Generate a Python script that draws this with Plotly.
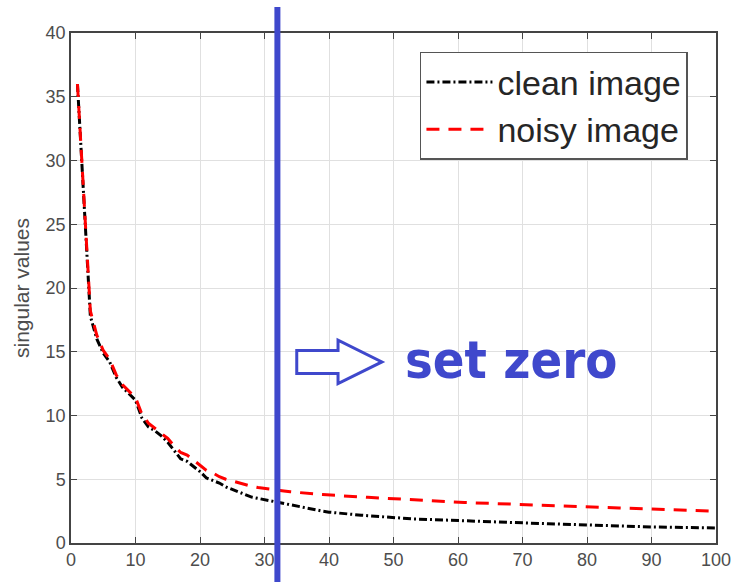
import plotly.graph_objects as go

# ---- data ----
rank = list(range(1, 101))
clean_image = [
    36.0, 27.0, 17.8, 16.0, 14.9, 14.2, 13.0, 12.2, 11.7, 11.2,
    9.8, 9.1, 8.8, 8.4, 7.9, 7.2, 6.6, 6.4, 6.0, 5.6,
    5.1, 4.9, 4.7, 4.4, 4.2, 4.0, 3.8, 3.6, 3.5, 3.4,
    3.3, 3.2, 3.05, 2.95, 2.85, 2.75, 2.65, 2.57, 2.5, 2.42,
    2.36, 2.31, 2.26, 2.22, 2.18, 2.14, 2.10, 2.06, 2.02, 1.96,
    1.93, 1.91, 1.89, 1.87, 1.85, 1.83, 1.81, 1.79, 1.76, 1.73,
    1.72, 1.70, 1.69, 1.67, 1.66, 1.64, 1.62, 1.61, 1.59, 1.57,
    1.56, 1.54, 1.53, 1.51, 1.50, 1.48, 1.47, 1.45, 1.43, 1.41,
    1.40, 1.38, 1.37, 1.35, 1.34, 1.32, 1.31, 1.29, 1.28, 1.26,
    1.25, 1.24, 1.23, 1.22, 1.21, 1.21, 1.20, 1.19, 1.19, 1.18,
]
noisy_image = [
    36.0, 27.2, 18.2, 16.3, 15.1, 14.4, 13.2, 12.4, 11.9, 11.4,
    10.1, 9.4, 9.0, 8.6, 8.2, 7.6, 7.1, 6.9, 6.5, 6.1,
    5.7, 5.5, 5.2, 5.0, 4.85, 4.7, 4.55, 4.45, 4.35, 4.27,
    4.2, 4.15, 4.08, 4.02, 3.96, 3.92, 3.88, 3.84, 3.80, 3.76,
    3.73, 3.70, 3.67, 3.64, 3.61, 3.58, 3.55, 3.52, 3.49, 3.45,
    3.43, 3.40, 3.38, 3.35, 3.33, 3.30, 3.28, 3.25, 3.23, 3.20,
    3.18, 3.16, 3.14, 3.12, 3.10, 3.08, 3.06, 3.04, 3.02, 3.00,
    2.99, 2.97, 2.96, 2.94, 2.93, 2.92, 2.90, 2.89, 2.87, 2.85,
    2.83, 2.81, 2.79, 2.77, 2.75, 2.73, 2.71, 2.69, 2.67, 2.65,
    2.63, 2.61, 2.59, 2.57, 2.55, 2.53, 2.52, 2.51, 2.50, 2.49,
]
series_names = ["clean image", "noisy image"]
x_ticks = [0, 10, 20, 30, 40, 50, 60, 70, 80, 90, 100]
y_ticks = [0, 5, 10, 15, 20, 25, 30, 35, 40]
cut_rank = 32
annotation_text = "set zero"
y_title = "singular values"

BLUE = "#3F48CC"

fig = go.Figure()
fig.add_trace(go.Scatter(
    x=rank, y=clean_image, mode="lines", name=series_names[0],
    line=dict(color="black", width=3, dash="8px,3px,2px,3px"),
))
fig.add_trace(go.Scatter(
    x=rank, y=noisy_image, mode="lines", name=series_names[1],
    line=dict(color="#FF0000", width=3, dash="13px,9px"),
))

# vertical cut line extending beyond the axes box
fig.add_shape(type="line", xref="x", yref="paper",
              x0=cut_rank, x1=cut_rank, y0=-0.08, y1=1.051,
              line=dict(color=BLUE, width=6), layer="above")

# outlined block arrow
ax0, ax1, ax2 = 35.0, 41.4, 48.2
ay, sh, hh = 14.2, 0.9, 1.7
path = (f"M{ax0},{ay+sh} L{ax1},{ay+sh} L{ax1},{ay+hh} L{ax2},{ay} "
        f"L{ax1},{ay-hh} L{ax1},{ay-sh} L{ax0},{ay-sh} Z")
fig.add_shape(type="path", xref="x", yref="y", path=path,
              line=dict(color=BLUE, width=3), fillcolor="white", layer="above")

fig.add_annotation(x=68.2, y=14.35, xref="x", yref="y", text=f"<b>{annotation_text}</b>",
                   showarrow=False,
                   font=dict(family="DejaVu Sans Condensed, DejaVu Sans",
                             size=52, color=BLUE))

axis_common = dict(
    showline=True, linecolor="#444444", linewidth=1.5, mirror="ticks",
    ticks="inside", ticklen=6, tickcolor="#444444", tickwidth=1,
    showgrid=True, gridcolor="#E0E0E0", gridwidth=1, zeroline=False,
    automargin=False,
    tickfont=dict(family="Liberation Sans, Arial", size=18, color="#4D4D4D"),
)
fig.update_xaxes(range=[0, 100], tickvals=x_ticks, **axis_common)
fig.update_yaxes(range=[0, 40], tickvals=y_ticks,
                 title=dict(text=y_title, standoff=10,
                            font=dict(family="Liberation Sans, Arial", size=21, color="#4D4D4D")),
                 **axis_common)

fig.update_layout(
    width=733, height=582,
    margin=dict(l=71, r=17, t=33, b=39),
    paper_bgcolor="white", plot_bgcolor="white",
    showlegend=True,
    legend=dict(x=0.541, y=0.963, xanchor="left", yanchor="top",
                bgcolor="white", bordercolor="#555555", borderwidth=1.5,
                font=dict(family="Liberation Sans, Arial", size=34, color="#262626"),
                itemwidth=66, tracegroupgap=0),
)

fig.write_html("out.html", post_script="document.body.style.margin='0';",
               config={"displayModeBar": False})
